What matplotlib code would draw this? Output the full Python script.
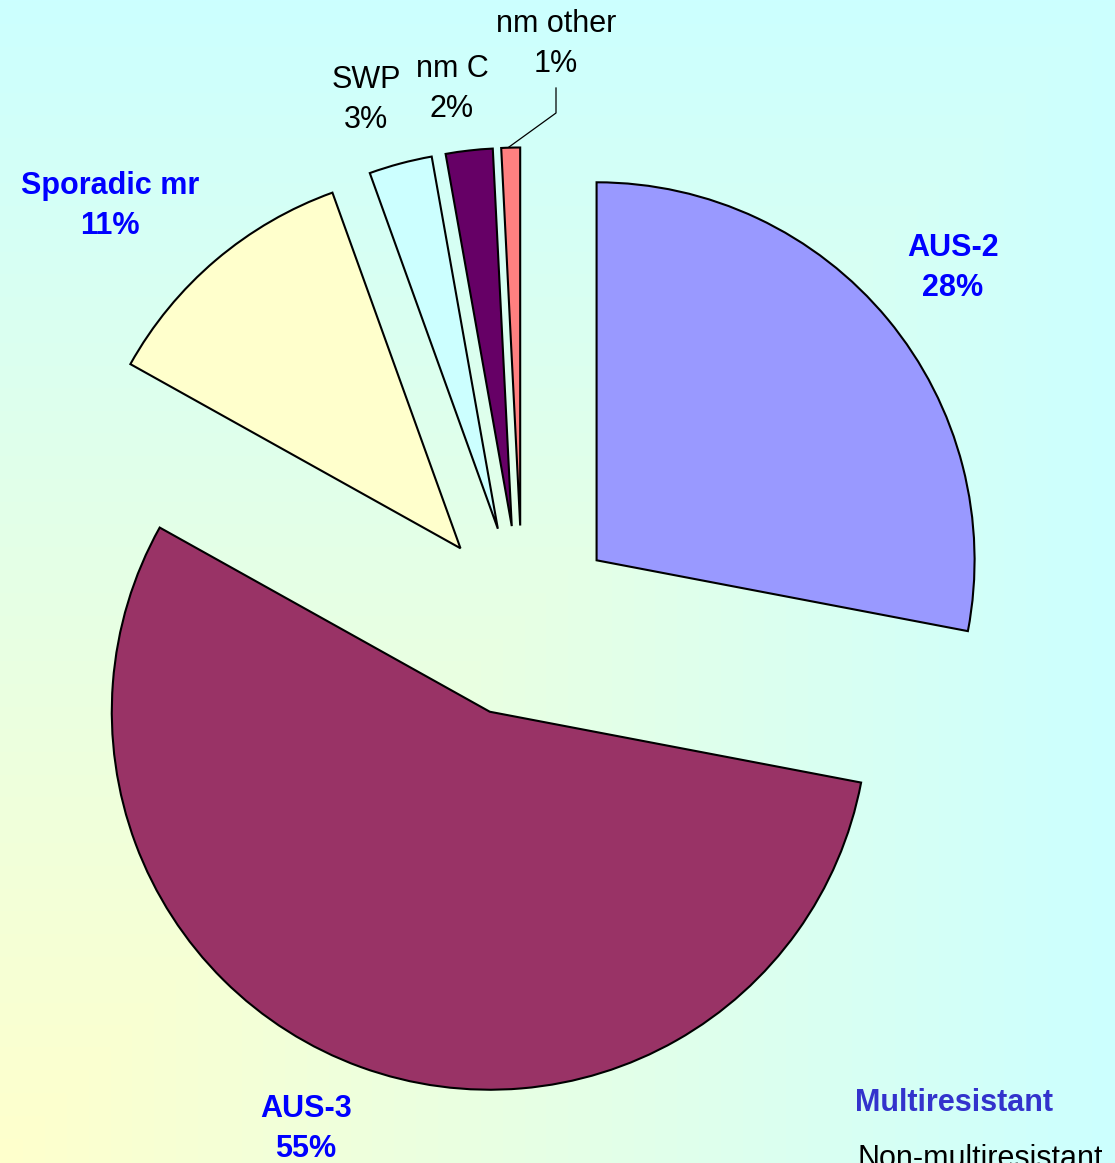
import numpy as np
import matplotlib
matplotlib.use('Agg')
from matplotlib import pyplot as plt

plt.rcParams['font.family'] = ['Liberation Sans', 'DejaVu Sans']

# clone groups, share of isolates (%)
labels = ['AUS-2', 'AUS-3', 'Sporadic mr', 'SWP', 'nm C', 'nm other']
shares = [28.0, 55.1, 11.4, 2.7, 2.0, 0.8]
multires = [True, True, True, False, False, False]
colors = ['#9999FF', '#993366', '#FFFFCC', '#CCFFFF', '#660066', '#FF8080']
legend_items = ['Multiresistant', 'Non-multiresistant']

W, H = 1115, 1163
fig = plt.figure(figsize=(W / 100, H / 100), dpi=100)

# corner gradient background, yellow in the lower left going to cyan
bg = fig.add_axes([0, 0, 1, 1])
xx, yy = np.meshgrid(np.linspace(0, 1, 400), np.linspace(0, 1, 400))
t = np.maximum(xx, 1 - yy)[..., None]
yellow = np.array([1.0, 1.0, 0.8])
cyan = np.array([0.8, 1.0, 1.0])
bg.imshow(yellow * (1 - t) + cyan * t, aspect='auto', extent=[0, 1, 0, 1])
bg.axis('off')

ax = fig.add_axes([0, 0, 1, 1])
ax.patch.set_alpha(0)
wedges, _ = ax.pie(shares, colors=colors, startangle=90, counterclock=False,
                   explode=[0.254] * len(shares),
                   wedgeprops=dict(edgecolor='black', linewidth=1.5))
# pie centre sits at pixel (522.6, 621.5), radius 378 px
cx, cy, r = 522.6, 621.5, 378.0
ax.set_xlim(-cx / r, (W - cx) / r)
ax.set_ylim(-(H - cy) / r, cy / r)
ax.set_aspect('auto')
ax.axis('off')


def fx(px, py):
    return px / W, 1 - py / H


# label centre x and baseline of first line, in pixels
label_pos = [(953, 256), (306, 1117), (110, 194), (366, 88), (452, 77), (556, 32)]
line_gap = 40
for name, val, mr, (px, py) in zip(labels, shares, multires, label_pos):
    style = dict(fontsize=22, ha='center', va='baseline', transform=fig.transFigure)
    if mr:
        style.update(color='#0000FF', fontweight='bold')
    else:
        style.update(color='black')
    fig.text(*fx(px, py), name, **style)
    fig.text(*fx(px, py + line_gap), f'{round(val)}%', **style)

# leader line for the smallest slice
lx = [556, 556, 509]
ly = [88, 113, 147]
fig.add_artist(plt.Line2D([p / W for p in lx], [1 - p / H for p in ly],
                          color='black', linewidth=0.9))

fig.text(*fx(855, 1111), legend_items[0], fontsize=22, fontweight='bold',
         color='#3333CC', ha='left', va='baseline')
fig.text(*fx(858, 1167), legend_items[1], fontsize=22, color='black',
         ha='left', va='baseline')

fig.savefig('out.png', dpi=100)
